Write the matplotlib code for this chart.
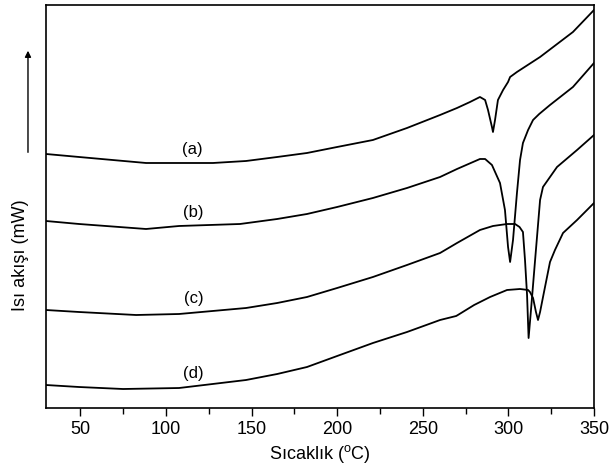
import matplotlib
matplotlib.use("Agg")
import matplotlib.pyplot as plt
from matplotlib.ticker import MultipleLocator

plt.rcParams['font.family'] = ['Liberation Sans', 'DejaVu Sans']
plt.rcParams['mathtext.fontset'] = 'custom'
plt.rcParams['mathtext.rm'] = 'Liberation Sans'

# DSC curves, heat flow in arbitrary units
t_a = [30, 49.3, 88.4, 127.5, 146.8, 165, 182.4, 200, 220.9, 240.8, 260.1, 270, 277.6, 283.4, 286.4,
       288.1, 290.4, 291.0, 292.2, 293.9, 296.9, 299.8, 301.0, 305.0, 318.5, 337.7, 350]
q_a = [254, 251, 245, 245, 247, 251, 255, 261, 268, 280, 293, 300, 306, 311, 308,
       298, 281, 276, 288, 308, 318, 326, 331, 336, 351, 376, 398]

t_b = [30, 49.3, 88.4, 107.7, 143.3, 165, 182.4, 200, 220.9, 240.8, 260.1, 270, 283.4, 286.4, 290.4,
       295.1, 298.0, 299.8, 301.0, 302.7, 305.0, 306.8, 308.5, 311.5, 314.4, 318, 324.3, 337.7, 350]
q_b = [187, 184, 179, 182, 184, 189, 194, 201, 210, 220, 231, 239, 249, 249, 243,
       225, 198, 161, 146, 168, 215, 248, 265, 278, 288, 294, 303, 321, 345]

t_c = [30, 49.3, 82.6, 107.7, 146.8, 165, 182.4, 200, 220.9, 240.8, 260.1, 270, 283.4, 291, 299.2, 303.9,
       306.5, 308.5, 309.7, 310.9, 311.8, 313.2, 315.5, 318.5, 320.2, 328.4, 340.1, 350]
q_c = [98, 96, 93, 94, 100, 105, 111, 120, 131, 143, 155, 165, 178, 182, 184, 184,
       181, 176, 148, 113, 70, 98, 146, 208, 221, 241, 258, 273]

t_d = [30, 49.3, 75, 107.7, 146.8, 165, 182.4, 200, 220.9, 240.8, 260.1, 269.5, 270.5, 280, 289.3, 299.2,
       306.8, 311.5, 312.6, 314.4, 316.1, 317.3, 318.5, 320.8, 324.3, 327.2, 331.9, 340.1, 350]
q_d = [23, 21, 19, 20, 28, 34, 41, 52, 65, 76, 88, 92, 93, 103, 111, 118,
       119, 118, 116, 110, 96, 88, 96, 116, 146, 158, 175, 188, 205]

labels = ['(a)', '(b)', '(c)', '(d)']
label_t = [115.5, 116, 116.5, 116]
label_q = [258, 195, 110, 35]

fig = plt.figure(figsize=(6.11, 4.70), dpi=100)
ax = fig.add_axes([0.0753, 0.1319, 0.8969, 0.8575])

for t, q in ((t_a, q_a), (t_b, q_b), (t_c, q_c), (t_d, q_d)):
    ax.plot(t, q, color='black', linewidth=1.3)

for lab, x, y in zip(labels, label_t, label_q):
    ax.text(x, y, lab, fontsize=12, ha='center', va='center')

ax.set_xlim(30, 350)
ax.set_ylim(0, 403)
ax.xaxis.set_major_locator(MultipleLocator(50))
ax.xaxis.set_minor_locator(MultipleLocator(25))
ax.tick_params(axis='x', which='major', direction='out', length=6, width=1, labelsize=13, pad=3)
ax.tick_params(axis='x', which='minor', direction='out', length=4, width=1)
ax.set_yticks([])
for s in ax.spines.values():
    s.set_linewidth(1.2)

ax.set_xlabel('Sıcaklık ($^{\\mathrm{o}}$C)', fontsize=13, labelpad=4)
fig.text(0.034, 0.457, 'Isı akışı (mW)', rotation=90, fontsize=13, ha='center', va='center')

# heat flow direction arrow
fig.patches.append(matplotlib.patches.FancyArrowPatch(
    (0.0458, 0.670), (0.0458, 0.898), transform=fig.transFigure,
    arrowstyle='-|>', mutation_scale=9, linewidth=1, color='black'))

fig.savefig('out.png', dpi=100)
